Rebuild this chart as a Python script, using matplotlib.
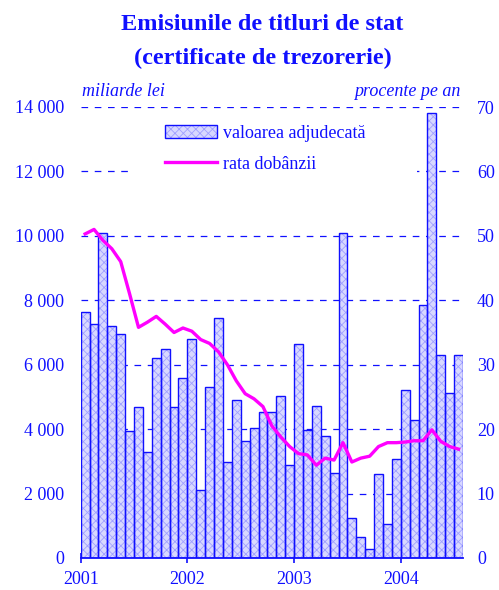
import numpy as np
import matplotlib
matplotlib.use("Agg")
import matplotlib.pyplot as plt
from matplotlib.patches import Patch, Rectangle
from matplotlib.lines import Line2D

# Data (monthly, Jan 2001 - Jul 2004)
years = ['2001', '2002', '2003', '2004']
issued = [7650, 7250, 10100, 7200, 6950, 3950, 4700, 3300, 6200, 6500, 4680, 5600,
          6800, 2100, 5300, 7450, 2970, 4920, 3630, 4030, 4520, 4520, 5030, 2890,
          6640, 3970, 4710, 3790, 2630, 10080, 1230, 640, 270, 2600, 1060, 3070,
          5220, 4280, 7850, 13800, 6300, 5110, 6300]
rate = [50.3, 51.0, 49.3, 48.0, 46.0, 41.0, 35.8, 36.6, 37.5, 36.3, 35.0, 35.7,
        35.2, 33.9, 33.3, 32.0, 30.0, 27.5, 25.5, 24.7, 23.5, 20.5, 18.8, 17.3,
        16.2, 16.0, 14.4, 15.5, 15.2, 17.9, 14.9, 15.5, 15.8, 17.3, 17.9, 17.9,
        18.0, 18.2, 18.2, 19.9, 18.1, 17.3, 16.9]
left_ticks = [0, 2000, 4000, 6000, 8000, 10000, 12000, 14000]
left_labels = ['0', '2 000', '4 000', '6 000', '8 000', '10 000', '12 000', '14 000']
right_ticks = [0, 10, 20, 30, 40, 50, 60, 70]

blue = '#1010ff'
fill_col = '#d8d8ff'
hatch_col = '#a0a0ff'
magenta = '#ff00ff'

plt.rcParams['font.family'] = ['Liberation Serif', 'DejaVu Serif']
plt.rcParams['hatch.linewidth'] = 0.6

fig = plt.figure(figsize=(4.99, 5.90), dpi=100)
ax = fig.add_axes([80.7 / 499, 32 / 590, (463 - 80.7) / 499, 451 / 590])

x = np.arange(len(issued))
# fill with pattern, then outline on top
ax.bar(x, issued, width=1.0, facecolor=fill_col, edgecolor=hatch_col,
       hatch='xxxx', linewidth=0, zorder=2)
ax.bar(x, issued, width=1.0, facecolor='none', edgecolor=blue,
       linewidth=1.0, zorder=3)

ax.set_xlim(-0.5, len(issued) - 0.5)
ax.set_ylim(0, 14000)
ax.set_yticks(left_ticks)
ax.set_yticklabels(left_labels)
ax.set_xticks([-0.5 + 12 * i for i in range(len(years))])
ax.set_xticklabels(years)

ax.set_axisbelow(True)
ax.yaxis.grid(True, color=blue, linestyle=(0, (5.3, 5.3)), linewidth=0.9)

# white box behind the legend hides the gridlines there
legend_bg = Rectangle(((133 - 80.7) / (463 - 80.7), (558 - 200) / 451),
                      (417 - 133) / (463 - 80.7), 87 / 451, transform=ax.transAxes,
                      facecolor='white', edgecolor='none', zorder=1)
ax.add_patch(legend_bg)

for s in ['top', 'left', 'right']:
    ax.spines[s].set_visible(False)
ax.spines['bottom'].set_color(blue)
ax.spines['bottom'].set_linewidth(1.3)
ax.spines['bottom'].set_zorder(4)

ax.tick_params(axis='y', length=0, pad=12, labelsize=13, labelcolor=blue)
ax.tick_params(axis='x', direction='inout', length=7, width=1.2, color=blue,
               pad=6, labelsize=13, labelcolor=blue)

ax2 = ax.twinx()
ax2.plot(x, rate, color=magenta, linewidth=2.4, zorder=5)
ax2.set_ylim(0, 70)
ax2.set_yticks(right_ticks)
for s in ['top', 'left', 'right', 'bottom']:
    ax2.spines[s].set_visible(False)
ax2.tick_params(axis='y', length=0, pad=10, labelsize=13, labelcolor=blue)

# legend
h_fill = Patch(facecolor=fill_col, edgecolor=hatch_col, hatch='xxxx', linewidth=0)
h_edge = Patch(facecolor='none', edgecolor=blue, linewidth=1.0)
h_line = Line2D([], [], color=magenta, linewidth=2.4)
leg = ax2.legend([(h_fill, h_edge), h_line], ['valoarea adjudecată', 'rata dobânzii'],
                 loc='upper left', bbox_to_anchor=((165 - 80.7) / (463 - 80.7), (558 - 125) / 451),
                 frameon=False, fontsize=13, handlelength=2.9, handleheight=0.7,
                 handletextpad=0.3, labelspacing=0.75, borderpad=0, borderaxespad=0)
for t in leg.get_texts():
    t.set_color(blue)

# titles
fig.text(0.526, 1 - 25 / 590, 'Emisiunile de titluri de stat', ha='center', va='center',
         fontsize=17.5, fontweight='bold', color=blue)
fig.text(0.526, 1 - 58 / 590, '(certificate de trezorerie)', ha='center', va='center',
         fontsize=17.5, fontweight='bold', color=blue)
fig.text(82 / 499, 1 - 91 / 590, 'miliarde lei', ha='left', va='center',
         fontsize=13, style='italic', color=blue)
fig.text(460 / 499, 1 - 91 / 590, 'procente pe an', ha='right', va='center',
         fontsize=13, style='italic', color=blue)

fig.savefig('out.png', dpi=100)
